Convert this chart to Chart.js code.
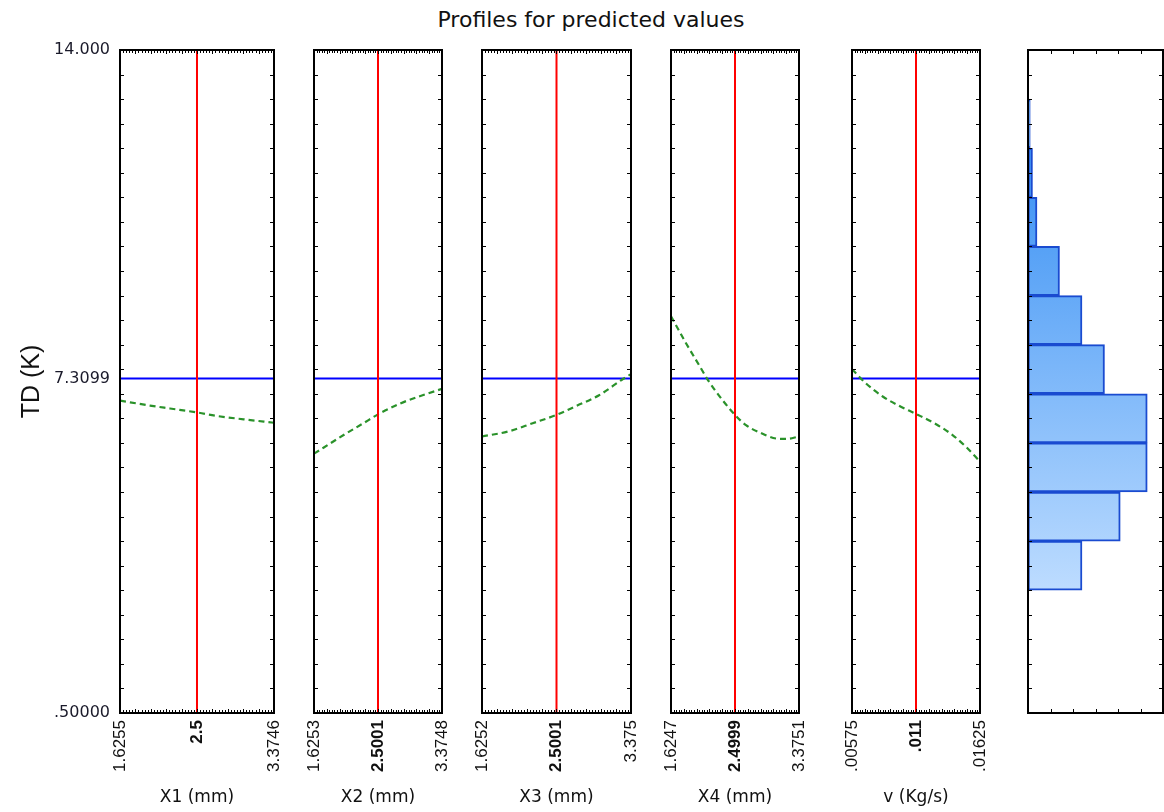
<!DOCTYPE html>
<html>
<head>
<meta charset="utf-8">
<script src="https://cdn.jsdelivr.net/npm/chart.js@4.4.1/dist/chart.umd.min.js"></script>
<style>
  body { margin: 0; background: #fff; }
  #wrap { position: relative; width: 1164px; height: 812px; overflow: hidden; }
  #wrap canvas { position: absolute; top: 0; }
  #title { position: absolute; left: 341px; width: 500px; top: 7px; text-align: center;
           font: 22px 'DejaVu Sans', sans-serif; color: #111; }
</style>
</head>
<body>
<div id="wrap">
  <div id="title">Profiles for predicted values</div>
</div>
<script>
// response axis
const yMin = 0.5, yMax = 14, yRef = 7.3099;
const yTickValues = [0.5, 7.3099, 14];
const yTickLabels = ['.50000', '7.3099', '14.000'];

// factors
const factorNames = ['X1 (mm)', 'X2 (mm)', 'X3 (mm)', 'X4 (mm)', 'v (Kg/s)'];
const factorMin = [1.6255, 1.6253, 1.6252, 1.6247, 0.00575];
const factorMid = [2.5, 2.5001, 2.5001, 2.4999, 0.011];
const factorMax = [3.3746, 3.3748, 3.375, 3.3751, 0.01625];
const factorTickLabels = [
  ['1.6255', '2.5', '3.3746'],
  ['1.6253', '2.5001', '3.3748'],
  ['1.6252', '2.5001', '3.375'],
  ['1.6247', '2.4999', '3.3751'],
  ['.00575', '.011', '.01625']
];

// predicted profiles
const profileX1 = [1.6255, 1.966, 2.193, 2.5, 2.72, 3.03, 3.3746];
const profileY1 = [6.86, 6.76, 6.70, 6.62, 6.55, 6.48, 6.41];
const profileX2 = [1.6253, 2.03, 2.30, 2.5001, 2.80, 3.07, 3.3748];
const profileY2 = [5.78, 6.16, 6.40, 6.58, 6.80, 6.95, 7.10];
const profileX3 = [1.6252, 1.95, 2.22, 2.5001, 2.73, 3.0, 3.28, 3.375];
const profileY3 = [6.13, 6.24, 6.40, 6.57, 6.75, 6.97, 7.30, 7.40];
const profileX4 = [1.6247, 1.83, 2.01, 2.13, 2.33, 2.4999, 2.65, 2.84, 3.06, 3.2, 3.3751];
const profileY4 = [8.58, 8.03, 7.58, 7.28, 6.87, 6.57, 6.36, 6.21, 6.09, 6.08, 6.13];
const profileX5 = [0.00575, 0.0069, 0.0083, 0.00965, 0.011, 0.01265, 0.014, 0.0151, 0.01625];
const profileY5 = [7.50, 7.21, 6.94, 6.75, 6.59, 6.38, 6.16, 5.92, 5.62];
const profileXs = [profileX1, profileX2, profileX3, profileX4, profileX5];
const profileYs = [profileY1, profileY2, profileY3, profileY4, profileY5];

// histogram of observed values
const histBinStart = [3, 4, 5, 6, 7, 8, 9, 10, 11, 12];
const histCounts = [24, 41, 53, 53, 34, 24, 14, 4, 2, 1];
const histMax = 60;

// layout
const panelLeft = [120, 314, 482, 671, 852];
const panelRight = [274, 442, 631, 799, 980];
const plotTop = 50, plotBottom = 713, pageH = 812;
const padL = 20, padR = 30;

const framePlugin = {
  id: 'frame',
  afterDatasetsDraw(chart, args, opts) {
    const { ctx, chartArea: a, scales } = chart;
    ctx.save();
    ctx.strokeStyle = '#000';
    ctx.lineWidth = 1;
    ctx.beginPath();
    for (let v = yMin; v <= yMax + 1e-9; v += 0.5) {
      const py = Math.round(scales.y.getPixelForValue(v)) + 0.5;
      ctx.moveTo(a.left, py); ctx.lineTo(a.left + 4, py);
      ctx.moveTo(a.right, py); ctx.lineTo(a.right - 4, py);
    }
    const xs = scales.x;
    const n = opts.divisions, step = (xs.max - xs.min) / n;
    for (let i = 1; i < n; i++) {
      const px = Math.round(xs.getPixelForValue(xs.min + i * step)) + 0.5;
      const len = i % opts.major === 0 ? opts.majorLen : opts.minorLen;
      ctx.moveTo(px, a.top); ctx.lineTo(px, a.top + len);
      ctx.moveTo(px, a.bottom); ctx.lineTo(px, a.bottom - len);
    }
    ctx.stroke();
    ctx.lineWidth = 2;
    ctx.strokeRect(a.left, a.top, a.right - a.left, a.bottom - a.top);
    ctx.restore();
  }
};
Chart.register(framePlugin);

function makeCanvas(left, width) {
  const cv = document.createElement('canvas');
  cv.width = width; cv.height = pageH;
  cv.style.left = left + 'px';
  cv.style.width = width + 'px'; cv.style.height = pageH + 'px';
  document.getElementById('wrap').appendChild(cv);
  return cv;
}

factorNames.forEach((name, i) => {
  const first = i === 0;
  const left = first ? 0 : panelLeft[i] - padL;
  const width = panelRight[i] + padR - left;
  new Chart(makeCanvas(left, width), {
    type: 'line',
    data: {
      datasets: [
        { data: [{ x: factorMin[i], y: yRef }, { x: factorMax[i], y: yRef }],
          borderColor: '#0000ff', borderWidth: 2, order: 2 },
        { data: [{ x: factorMid[i], y: yMin }, { x: factorMid[i], y: yMax }],
          borderColor: '#ff0000', borderWidth: 2, order: 0 },
        { data: profileXs[i].map((x, k) => ({ x, y: profileYs[i][k] })),
          borderColor: '#2a922a', borderWidth: 2.2, borderDash: [6, 4],
          cubicInterpolationMode: 'monotone', order: 1 }
      ]
    },
    options: {
      responsive: false, animation: false, events: [],
      layout: { padding: { left: first ? 0 : padL, right: padR, top: plotTop, bottom: 0 } },
      elements: { point: { radius: 0 } },
      plugins: {
        legend: { display: false }, tooltip: { enabled: false },
        frame: { divisions: 50, major: 5, minorLen: 3, majorLen: 4 }
      },
      scales: {
        x: {
          type: 'linear', min: factorMin[i], max: factorMax[i],
          grid: { display: false, drawTicks: false }, border: { display: false },
          afterBuildTicks: ax => { ax.ticks = [factorMin[i], factorMid[i], factorMax[i]].map(v => ({ value: v })); },
          afterFit: ax => { ax.height = pageH - plotBottom; },
          ticks: {
            autoSkip: false, minRotation: 90, maxRotation: 90, padding: 7, color: '#111',
            font: c => ({ family: 'Liberation Sans', size: 17, weight: c.index === 1 ? 'bold' : 'normal' }),
            callback: (v, k) => factorTickLabels[i][k]
          },
          title: { display: true, text: name, color: '#111', padding: { top: 0, bottom: 4 },
                   font: { family: 'DejaVu Sans', size: 17 } }
        },
        y: {
          type: 'linear', min: yMin, max: yMax, display: first,
          grid: { display: false, drawTicks: false }, border: { display: false },
          afterBuildTicks: ax => { ax.ticks = yTickValues.map(v => ({ value: v })); },
          afterFit: ax => { if (first) ax.width = panelLeft[0]; },
          ticks: { padding: 10, color: '#1a1a2a', font: { family: 'DejaVu Sans', size: 16 },
                   callback: (v, k) => yTickLabels[k] },
          title: { display: true, text: 'TD (K)', color: '#111', padding: { top: 17, bottom: 0 },
                   font: { family: 'Liberation Sans', size: 25 } }
        }
      }
    }
  });
});

// histogram panel
const histLeft = 1028, histRight = 1163;
new Chart(makeCanvas(histLeft - padL, 1164 - (histLeft - padL)), {
  type: 'bar',
  data: {
    datasets: [{
      data: histBinStart.map((b, k) => ({ y: b + 0.5, x: histCounts[k] })),
      backgroundColor(c) {
        const chart = c.chart;
        if (!chart.chartArea) return '#6ab0ff';
        const ys = chart.scales.y;
        const g = chart.ctx.createLinearGradient(0, ys.getPixelForValue(13), 0, ys.getPixelForValue(3));
        g.addColorStop(0, '#2a88f2');
        g.addColorStop(1, '#bddcff');
        return g;
      },
      borderColor: '#1a4bd0', borderWidth: 2, borderSkipped: false,
      barPercentage: 1, categoryPercentage: 1
    }]
  },
  options: {
    indexAxis: 'y', responsive: false, animation: false, events: [],
    layout: { padding: { left: padL, right: 1164 - histRight, top: plotTop, bottom: pageH - plotBottom } },
    plugins: {
      legend: { display: false }, tooltip: { enabled: false },
      frame: { divisions: 6, major: 1, minorLen: 4, majorLen: 4 }
    },
    scales: {
      x: { type: 'linear', min: 0, max: histMax, display: false },
      y: { type: 'linear', min: yMin, max: yMax, display: false, offset: false,
           afterBuildTicks: ax => { ax.ticks = histBinStart.concat([13]).map(v => ({ value: v })); } }
    }
  }
});
</script>
</body>
</html>
